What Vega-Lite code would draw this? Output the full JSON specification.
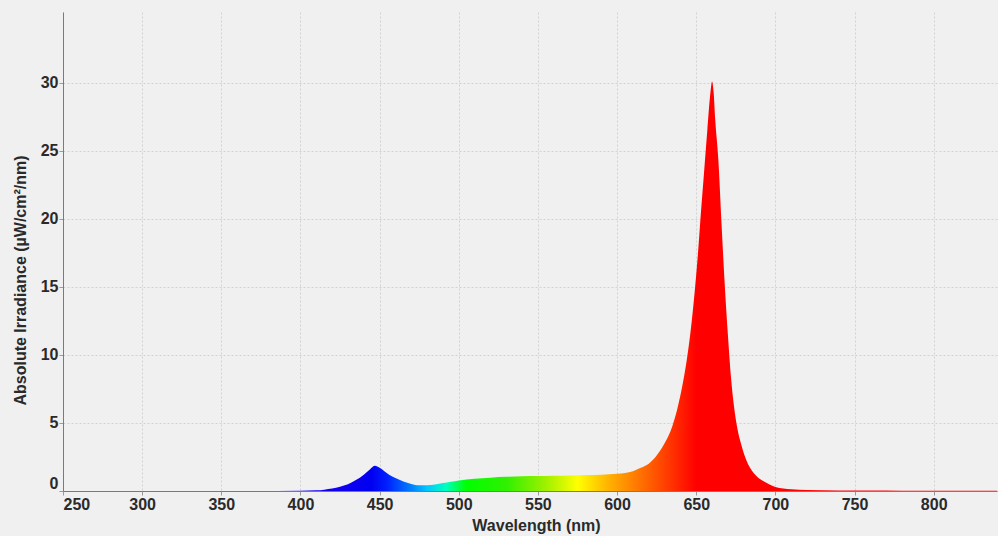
{
  "$schema": "https://vega.github.io/schema/vega-lite/v6.json",
  "autosize": {"type": "none"},
  "width": 934,
  "height": 479,
  "padding": {"left": 63, "top": 12, "right": 1, "bottom": 45},
  "background": "#f0f0f0",
  "config": {
    "view": {"stroke": null, "fill": "#f0f0f0"},
    "font": "Liberation Sans",
    "axis": {
      "labelFont": "Liberation Sans",
      "labelFontSize": 16,
      "labelFontWeight": "bold",
      "labelColor": "#2a2a2a",
      "titleFont": "Liberation Sans",
      "titleFontSize": 16,
      "titleFontWeight": "bold",
      "titleColor": "#2a2a2a",
      "domainColor": "#7a7a7a",
      "tickColor": "#9a9a9a",
      "tickSize": 4,
      "labelPadding": 1,
      "gridColor": "#d2d2d2",
      "gridDash": [2, 2],
      "gridWidth": 1
    }
  },
  "data": {
    "values": [
      {"wavelength": 250, "irradiance": 0},
      {"wavelength": 300, "irradiance": 0},
      {"wavelength": 350, "irradiance": 0},
      {"wavelength": 400, "irradiance": 0.02},
      {"wavelength": 410, "irradiance": 0.05},
      {"wavelength": 415, "irradiance": 0.1},
      {"wavelength": 420, "irradiance": 0.18},
      {"wavelength": 425, "irradiance": 0.32},
      {"wavelength": 430, "irradiance": 0.5},
      {"wavelength": 435, "irradiance": 0.8},
      {"wavelength": 440, "irradiance": 1.2},
      {"wavelength": 444, "irradiance": 1.6},
      {"wavelength": 447, "irradiance": 1.85},
      {"wavelength": 450, "irradiance": 1.7},
      {"wavelength": 453, "irradiance": 1.45},
      {"wavelength": 456, "irradiance": 1.2},
      {"wavelength": 460, "irradiance": 0.95},
      {"wavelength": 465, "irradiance": 0.7},
      {"wavelength": 470, "irradiance": 0.52},
      {"wavelength": 475, "irradiance": 0.42},
      {"wavelength": 480, "irradiance": 0.42},
      {"wavelength": 485, "irradiance": 0.48},
      {"wavelength": 490, "irradiance": 0.58},
      {"wavelength": 495, "irradiance": 0.68},
      {"wavelength": 500, "irradiance": 0.78},
      {"wavelength": 510, "irradiance": 0.9},
      {"wavelength": 520, "irradiance": 0.98},
      {"wavelength": 530, "irradiance": 1.04},
      {"wavelength": 540, "irradiance": 1.08},
      {"wavelength": 550, "irradiance": 1.1},
      {"wavelength": 560, "irradiance": 1.12},
      {"wavelength": 570, "irradiance": 1.14},
      {"wavelength": 580, "irradiance": 1.17},
      {"wavelength": 590, "irradiance": 1.2},
      {"wavelength": 600, "irradiance": 1.26},
      {"wavelength": 605, "irradiance": 1.32},
      {"wavelength": 610, "irradiance": 1.45},
      {"wavelength": 615, "irradiance": 1.7},
      {"wavelength": 620, "irradiance": 2.0},
      {"wavelength": 625, "irradiance": 2.6},
      {"wavelength": 630, "irradiance": 3.5},
      {"wavelength": 635, "irradiance": 4.8},
      {"wavelength": 638, "irradiance": 6.0},
      {"wavelength": 641, "irradiance": 7.6},
      {"wavelength": 644, "irradiance": 9.6},
      {"wavelength": 647, "irradiance": 12.3},
      {"wavelength": 649, "irradiance": 14.6},
      {"wavelength": 651, "irradiance": 17.3},
      {"wavelength": 653, "irradiance": 20.5},
      {"wavelength": 655, "irradiance": 23.5},
      {"wavelength": 657, "irradiance": 26.5},
      {"wavelength": 659, "irradiance": 29.3},
      {"wavelength": 660, "irradiance": 30.1},
      {"wavelength": 661, "irradiance": 29.3},
      {"wavelength": 662, "irradiance": 27.3},
      {"wavelength": 664, "irradiance": 24.3},
      {"wavelength": 666, "irradiance": 19.6},
      {"wavelength": 668, "irradiance": 15.2},
      {"wavelength": 670, "irradiance": 11.5},
      {"wavelength": 672, "irradiance": 8.3},
      {"wavelength": 674, "irradiance": 6.1},
      {"wavelength": 676, "irradiance": 4.6},
      {"wavelength": 678, "irradiance": 3.6},
      {"wavelength": 680, "irradiance": 2.8},
      {"wavelength": 684, "irradiance": 1.7},
      {"wavelength": 688, "irradiance": 1.1},
      {"wavelength": 692, "irradiance": 0.75},
      {"wavelength": 696, "irradiance": 0.5},
      {"wavelength": 700, "irradiance": 0.3},
      {"wavelength": 705, "irradiance": 0.18},
      {"wavelength": 710, "irradiance": 0.12},
      {"wavelength": 720, "irradiance": 0.07},
      {"wavelength": 740, "irradiance": 0.04},
      {"wavelength": 760, "irradiance": 0.03},
      {"wavelength": 780, "irradiance": 0.02},
      {"wavelength": 800, "irradiance": 0.02},
      {"wavelength": 840, "irradiance": 0.01}
    ]
  },
  "mark": {
    "type": "area",
    "interpolate": "monotone",
    "color": {
      "gradient": "linear",
      "x1": 0, "x2": 1, "y1": 0, "y2": 0,
      "stops": [
        {"offset": 0, "color": "#3000ff"},
        {"offset": 0.3, "color": "#1000f0"},
        {"offset": 0.33, "color": "#0000f0"},
        {"offset": 0.347, "color": "#0020ff"},
        {"offset": 0.373, "color": "#0080ff"},
        {"offset": 0.39, "color": "#00c8ff"},
        {"offset": 0.41, "color": "#00ffc0"},
        {"offset": 0.432, "color": "#00ff00"},
        {"offset": 0.475, "color": "#30f000"},
        {"offset": 0.517, "color": "#a0f000"},
        {"offset": 0.551, "color": "#ffff00"},
        {"offset": 0.585, "color": "#ffb000"},
        {"offset": 0.619, "color": "#ff7000"},
        {"offset": 0.653, "color": "#ff3000"},
        {"offset": 0.678, "color": "#ff0000"},
        {"offset": 1, "color": "#ff0000"}
      ]
    }
  },
  "encoding": {
    "x": {
      "field": "wavelength",
      "type": "quantitative",
      "title": "Wavelength (nm)",
      "scale": {"domain": [250, 840], "nice": false, "zero": false},
      "axis": {"values": [250, 300, 350, 400, 450, 500, 550, 600, 650, 700, 750, 800], "labelFlush": true, "titlePadding": 5, "titleX": 473}
    },
    "y": {
      "field": "irradiance",
      "type": "quantitative",
      "title": "Absolute Irradiance (µW/cm²/nm)",
      "scale": {"domain": [0, 35.2], "nice": false},
      "axis": {"values": [0, 5, 10, 15, 20, 25, 30], "labelFlush": true, "titlePadding": 12, "titleY": 268}
    }
  }
}
